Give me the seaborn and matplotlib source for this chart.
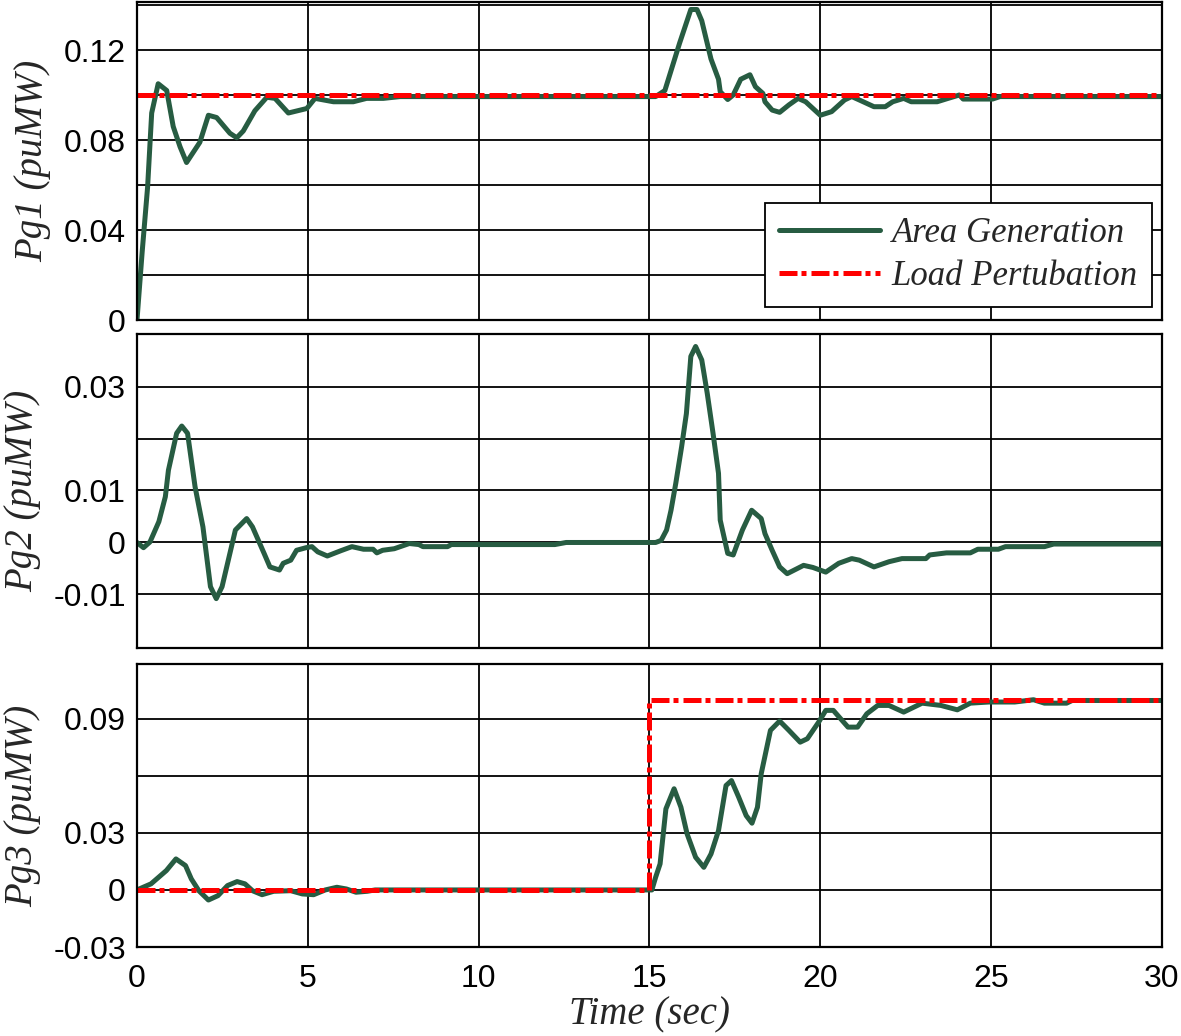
import numpy as np
import pandas as pd
import seaborn as sns
import matplotlib.pyplot as plt
from matplotlib.font_manager import FontProperties

sns.set_style("white")
plt.rcParams['font.family'] = ['Liberation Sans', 'DejaVu Sans']

#-----[data]-----

t1 = [0, 0.15, 0.31, 0.43, 0.62, 0.87, 1.06, 1.26, 1.45, 1.84, 2.09, 2.33, 2.72, 2.92, 3.11,
      3.45, 3.80, 4.04, 4.43, 4.97, 5.21, 5.75, 6.33, 6.72, 7.21, 7.70, 15.18, 15.45, 15.88,
      16.21, 16.39, 16.53, 16.80, 17.02, 17.07, 17.29, 17.45, 17.67, 17.94, 18.10, 18.32,
      18.38, 18.59, 18.81, 19.08, 19.35, 19.57, 20.00, 20.33, 20.71, 20.92, 21.14, 21.57,
      21.90, 22.12, 22.44, 22.66, 23.42, 23.74, 24.07, 24.18, 25.04, 25.26, 30]
pg1 = [0, 0.030, 0.059, 0.092, 0.105, 0.102, 0.086, 0.077, 0.070, 0.079, 0.091, 0.090, 0.083,
       0.081, 0.084, 0.093, 0.099, 0.0985, 0.092, 0.094, 0.0985, 0.097, 0.097, 0.0985, 0.0985,
       0.0993, 0.0993, 0.102, 0.123, 0.138, 0.138, 0.133, 0.116, 0.107, 0.1015, 0.098, 0.100,
       0.107, 0.109, 0.1037, 0.1007, 0.097, 0.0933, 0.0923, 0.0956, 0.0985, 0.097, 0.091,
       0.0926, 0.0978, 0.0993, 0.0978, 0.0948, 0.0948, 0.097, 0.0985, 0.097, 0.097, 0.0985,
       0.100, 0.0982, 0.0982, 0.0993, 0.0993]

t2 = [0, 0.19, 0.38, 0.64, 0.83, 0.92, 1.16, 1.31, 1.48, 1.70, 1.93, 2.15, 2.32, 2.49, 2.88,
      3.21, 3.38, 3.72, 3.89, 4.17, 4.28, 4.50, 4.67, 4.95, 5.12, 5.29, 5.57, 5.96, 6.29, 6.63,
      6.91, 7.02, 7.19, 7.53, 7.97, 8.25, 8.37, 9.09, 9.20, 12.23, 12.56, 15.18, 15.34, 15.50,
      15.63, 15.77, 15.94, 16.08, 16.21, 16.35, 16.53, 16.69, 16.86, 17.02, 17.07, 17.29,
      17.45, 17.72, 17.99, 18.27, 18.38, 18.59, 18.81, 19.03, 19.51, 19.78, 20.16, 20.54,
      20.92, 21.14, 21.57, 22.01, 22.39, 23.09, 23.20, 23.69, 24.39, 24.61, 25.21, 25.42,
      26.56, 26.83, 30]
pg2 = [0, -0.001, 0.0001, 0.004, 0.0088, 0.0139, 0.021, 0.0224, 0.021, 0.0107, 0.003, -0.0085,
       -0.0108, -0.0085, 0.0024, 0.0046, 0.003, -0.0021, -0.0047, -0.0053, -0.004, -0.0034,
       -0.0015, -0.001, -0.0008, -0.0018, -0.0026, -0.0016, -0.0008, -0.0013, -0.0013, -0.002,
       -0.0015, -0.0012, -0.0002, -0.0004, -0.0008, -0.0008, -0.0004, -0.0004, 0, 0, 0.0004,
       0.0024, 0.0062, 0.0114, 0.0184, 0.0248, 0.0358, 0.0377, 0.0351, 0.0287, 0.021, 0.0133,
       0.0043, -0.0021, -0.0024, 0.0024, 0.0062, 0.0046, 0.0017, -0.0015, -0.0047, -0.006,
       -0.0044, -0.0048, -0.0057, -0.004, -0.0031, -0.0034, -0.0047, -0.0037, -0.0031,
       -0.0031, -0.0024, -0.002, -0.002, -0.0013, -0.0013, -0.0008, -0.0008, -0.0003, -0.0003]

t3 = [0, 0.41, 0.86, 1.14, 1.42, 1.59, 1.81, 2.09, 2.37, 2.65, 2.93, 3.16, 3.38, 3.66, 4.00,
      4.50, 4.84, 5.17, 5.51, 5.85, 6.13, 6.41, 6.74, 6.97, 15.07, 15.18, 15.31, 15.48, 15.72,
      15.92, 16.10, 16.35, 16.59, 16.80, 17.02, 17.24, 17.40, 17.61, 17.83, 18.00, 18.16,
      18.27, 18.54, 18.81, 19.08, 19.41, 19.62, 19.95, 20.16, 20.38, 20.81, 21.09, 21.36,
      21.68, 22.01, 22.44, 22.98, 23.53, 24.01, 24.39, 24.93, 25.69, 26.24, 26.56, 27.21,
      27.37, 30]
pg3 = [0, 0.0032, 0.0102, 0.0163, 0.0128, 0.0058, -0.0004, -0.0053, -0.003, 0.0023, 0.0044,
       0.0032, -0.0004, -0.0025, -0.0007, -0.0004, -0.0021, -0.0025, 0, 0.0014, 0.0005,
       -0.0012, -0.0007, 0, 0, 0.0067, 0.0137, 0.0426, 0.0532, 0.0435, 0.0295, 0.0172, 0.0119,
       0.0189, 0.0312, 0.0549, 0.0575, 0.0488, 0.0391, 0.0351, 0.0435, 0.0611, 0.0839, 0.0888,
       0.0839, 0.0777, 0.0795, 0.0882, 0.0944, 0.0944, 0.0856, 0.0856, 0.0926, 0.097, 0.097,
       0.0935, 0.0982, 0.097, 0.0947, 0.0982, 0.0988, 0.0988, 0.100, 0.0982, 0.0982, 0.0996,
       0.0996]

load1_t = [0, 30]
load1 = [0.1, 0.1]
load3_t = [0, 15, 15, 30]
load3 = [0, 0, 0.1, 0.1]

ylabels = ['Pg1 (puMW)', 'Pg2 (puMW)', 'Pg3 (puMW)']
yticks = [[0, 0.02, 0.04, 0.06, 0.08, 0.10, 0.12, 0.14],
          [-0.01, 0, 0.01, 0.02, 0.03],
          [-0.03, 0, 0.03, 0.06, 0.09]]
yticklabels = [['0', '', '0.04', '', '0.08', '', '0.12', ''],
               ['-0.01', '0', '0.01', '', '0.03'],
               ['-0.03', '0', '0.03', '', '0.09']]
ylims = [(0, 0.1413), (-0.0203, 0.0401), (-0.03, 0.1188)]
xticks = [0, 5, 10, 15, 20, 25, 30]

#-----[plot]-----

green = '#275c42'
red = '#ff0000'
dashdot = (0, (3.6, 0.8, 1.0, 1.0))
label_font = FontProperties(family='Liberation Serif', style='italic', size=28)
legend_font = FontProperties(family='Liberation Serif', style='italic', size=25)

fig = plt.figure(figsize=(11.81, 10.36), dpi=100)
ax1 = fig.add_axes([0.1160, 0.6911, 0.8679, 0.3069])
ax2 = fig.add_axes([0.1160, 0.3745, 0.8679, 0.3031])
ax3 = fig.add_axes([0.1160, 0.0859, 0.8679, 0.2732])
axes = [ax1, ax2, ax3]

sns.lineplot(x=t1, y=pg1, ax=ax1, color=green, lw=3.6, estimator=None, sort=False,
             label='Area Generation')
sns.lineplot(x=load1_t, y=load1, ax=ax1, color=red, lw=3.6, estimator=None, sort=False,
             linestyle=dashdot, label='Load Pertubation')
sns.lineplot(x=t2, y=pg2, ax=ax2, color=green, lw=3.6, estimator=None, sort=False)
sns.lineplot(x=t3, y=pg3, ax=ax3, color=green, lw=3.6, estimator=None, sort=False)
sns.lineplot(x=load3_t, y=load3, ax=ax3, color=red, lw=3.6, estimator=None, sort=False,
             linestyle=dashdot)

for i, ax in enumerate(axes):
    ax.set_xlim(0, 30)
    ax.set_ylim(*ylims[i])
    ax.set_xticks(xticks)
    ax.set_yticks(yticks[i])
    ax.set_yticklabels(yticklabels[i])
    ax.grid(True, color='black', lw=1.3)
    ax.set_axisbelow(True)
    ax.tick_params(length=0, labelsize=23, pad=8, colors='black')
    ax.tick_params(axis='x', pad=12)
    for s in ax.spines.values():
        s.set_color('black')
        s.set_linewidth(1.6)
    ax.set_ylabel(ylabels[i], fontproperties=label_font, labelpad=9)
    if i < 2:
        ax.set_xticklabels([])
        ax.set_xlabel('')

ax3.set_xlabel('Time (sec)', fontproperties=label_font, labelpad=2)
fig.align_ylabels(axes)

leg = ax1.legend(loc='lower right', bbox_to_anchor=(0.99, 0.04), prop=legend_font,
                 handlelength=2.9, handletextpad=0.35, labelspacing=0.3, borderpad=0.4,
                 fancybox=False, framealpha=1, edgecolor='black', borderaxespad=0)
leg.get_frame().set_linewidth(1.3)

plt.savefig('out.png', dpi=100)
